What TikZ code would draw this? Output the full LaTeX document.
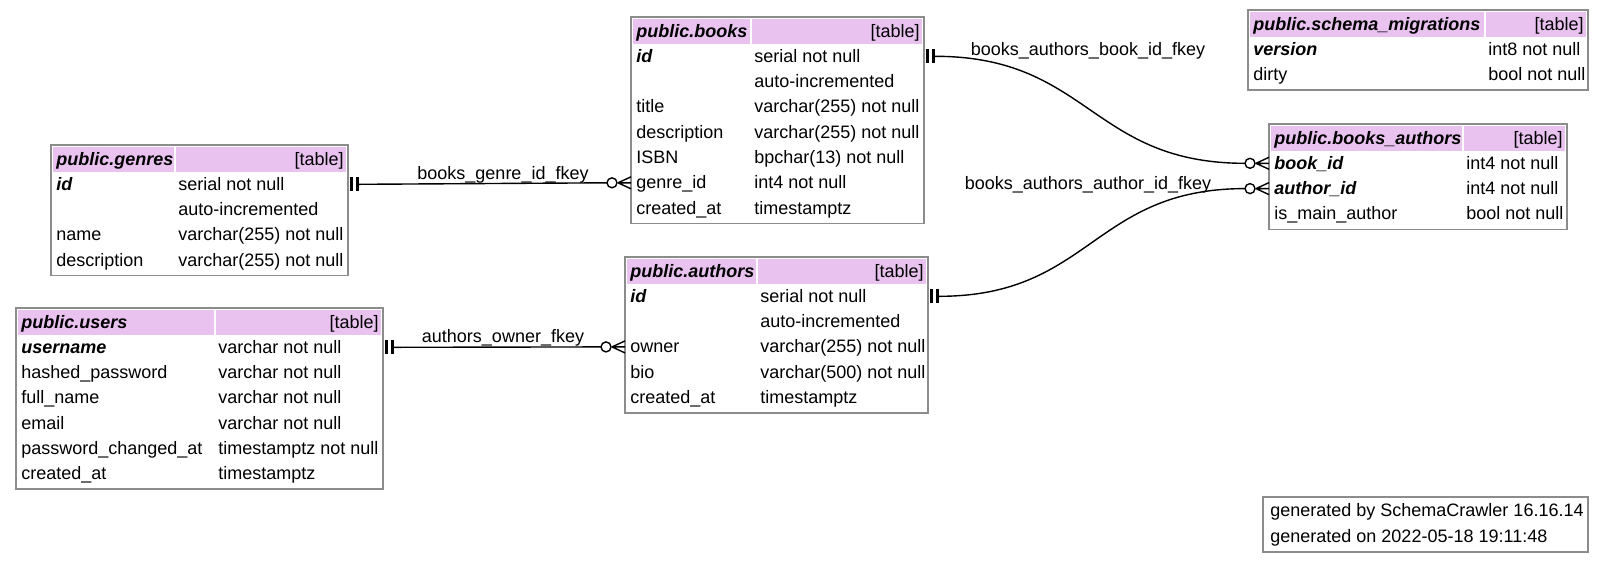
\documentclass[tikz,border=0pt]{standalone}
\usepackage{fontspec}
\setmainfont{Liberation Sans}
\definecolor{hdr}{RGB}{233,194,240}
\definecolor{bordergray}{RGB}{140,140,140}
\tikzset{
  tblbox/.style={draw=bordergray, line width=0.7pt, inner sep=0pt, outer sep=0pt, anchor=north west},
  cell/.style={inner sep=0pt, font=\fontsize{9pt}{11pt}\selectfont, anchor=base west},
  cellr/.style={cell, anchor=base east},
  fklabel/.style={inner sep=0pt, font=\fontsize{9pt}{11pt}\selectfont, anchor=base},
  rel/.style={line width=0.7pt, black},
  pics/onebars/.style={code={\fill (2,-7) rectangle (5,7); \fill (8,-7) rectangle (11,7);}},
  pics/crowmany/.style={code={\draw[rel] (-13,0) -- (0,-6) (-13,0) -- (0,6) (-13,0) -- (0,0);
      \draw[rel, fill=white] (-19,0) circle[radius=2.5pt];}},
}
\newcommand\dbtable[7]{%
  \def\tL{#2}\def\tT{#3}\def\tR{#4}\def\tC{#5}%
  \pgfmathsetmacro\tH{#6*25.3+4}%
  \fill[hdr] ({#2+2},{#3+2}) rectangle ({#4-2},{#3+27});
  \draw[white, line width=1pt] (#5,{#3+2}) -- (#5,{#3+27});
  \node[tblbox, minimum width={(#4-#2)*0.5pt}, minimum height={\tH*0.5pt}] (#1) at (#2,#3) {};
  \node[cell, font=\fontsize{9pt}{11pt}\selectfont\bfseries\itshape] (#1-title) at ({#2+5},{#3+20}) {#7};
  \node[cellr] (#1-kind) at ({#4-4},{#3+20}) {[table]};
}
\newcommand\dbrow[4]{%
  \pgfmathsetmacro\rb{\tT+20+25.3*#2}%
  \node[cell] (#1-#2-n) at ({\tL+5},\rb) {#3};
  \node[cell] (#1-#2-t) at ({\tC+3},\rb) {#4};
  \coordinate (#1-#2-w) at (\tL,{\rb-6});
  \coordinate (#1-#2-e) at (\tR,{\rb-6});
}
\begin{document}
\begin{tikzpicture}[x=0.5pt, y=-0.5pt]
\useasboundingbox (0,0) rectangle (1604,564);

% genres
\dbtable{genres}{51}{145}{348}{175}{5}{public.genres}
\dbrow{genres}{1}{\bfseries\itshape id}{serial not null}
\dbrow{genres}{2}{}{auto-incremented}
\dbrow{genres}{3}{name}{varchar(255) not null}
\dbrow{genres}{4}{description}{varchar(255) not null}

% books
\dbtable{books}{631}{17}{924}{751}{8}{public.books}
\dbrow{books}{1}{\bfseries\itshape id}{serial not null}
\dbrow{books}{2}{}{auto-incremented}
\dbrow{books}{3}{title}{varchar(255) not null}
\dbrow{books}{4}{description}{varchar(255) not null}
\dbrow{books}{5}{ISBN}{bpchar(13) not null}
\dbrow{books}{6}{genre\_id}{int4 not null}
\dbrow{books}{7}{created\_at}{timestamptz}

% schema_migrations
\dbtable{sm}{1248}{10}{1588}{1485}{3}{public.schema\_migrations}
\dbrow{sm}{1}{\bfseries\itshape version}{int8 not null}
\dbrow{sm}{2}{dirty}{bool not null}

% books_authors
\dbtable{ba}{1269}{124}{1567}{1463}{4}{public.books\_authors}
\dbrow{ba}{1}{\bfseries\itshape book\_id}{int4 not null}
\dbrow{ba}{2}{\bfseries\itshape author\_id}{int4 not null}
\dbrow{ba}{3}{is\_main\_author}{bool not null}

% users
\dbtable{users}{16}{308}{383}{215}{7}{public.users}
\dbrow{users}{1}{\bfseries\itshape username}{varchar not null}
\dbrow{users}{2}{hashed\_password}{varchar not null}
\dbrow{users}{3}{full\_name}{varchar not null}
\dbrow{users}{4}{email}{varchar not null}
\dbrow{users}{5}{password\_changed\_at}{timestamptz not null}
\dbrow{users}{6}{created\_at}{timestamptz}

% authors
\dbtable{authors}{625}{257}{928}{757}{6}{public.authors}
\dbrow{authors}{1}{\bfseries\itshape id}{serial not null}
\dbrow{authors}{2}{}{auto-incremented}
\dbrow{authors}{3}{owner}{varchar(255) not null}
\dbrow{authors}{4}{bio}{varchar(500) not null}
\dbrow{authors}{5}{created\_at}{timestamptz}

% footer
\node[tblbox, minimum width={325*0.5pt}, minimum height={55*0.5pt}] (footer) at (1263,497) {};
\node[cell] (footer-1) at (1270,516) {generated by SchemaCrawler 16.16.14};
\node[cell] (footer-2) at (1270,542) {generated on 2022-05-18 19:11:48};

% relationships
\draw[rel] ([xshift=5.5pt]genres-1-e) -- ([xshift=-12pt]books-6-w);
\pic at (genres-1-e) {onebars};
\pic at (books-6-w) {crowmany};
\node[fklabel] (lbl-genre) at (503,179) {books\_genre\_id\_fkey};

\draw[rel] ([xshift=5.5pt]users-1-e) -- ([xshift=-12pt]authors-3-w);
\pic at (users-1-e) {onebars};
\pic at (authors-3-w) {crowmany};
\node[fklabel] (lbl-owner) at (503,342) {authors\_owner\_fkey};

\draw[rel] ([xshift=5.5pt]books-1-e) .. controls +(77pt,0) and +(-77pt,0) .. ([xshift=-12pt]ba-1-w);
\pic at (books-1-e) {onebars};
\pic at (ba-1-w) {crowmany};
\node[fklabel] (lbl-book) at (1088,55) {books\_authors\_book\_id\_fkey};

\draw[rel] ([xshift=5.5pt]authors-1-e) .. controls +(76pt,0) and +(-76pt,0) .. ([xshift=-12pt]ba-2-w);
\pic at (authors-1-e) {onebars};
\pic at (ba-2-w) {crowmany};
\node[fklabel] (lbl-author) at (1088,189) {books\_authors\_author\_id\_fkey};
\end{tikzpicture}
\end{document}
